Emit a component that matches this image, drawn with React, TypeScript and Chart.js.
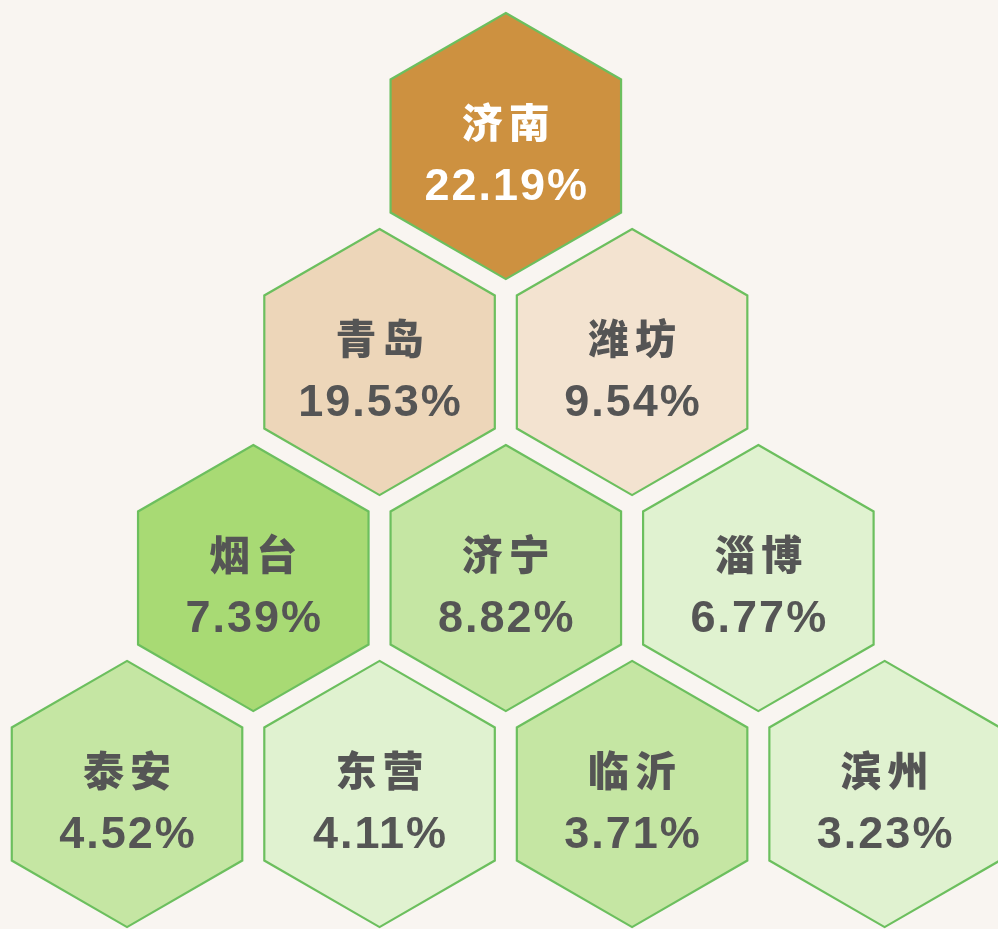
import React, { useEffect, useRef } from "react";
import { Chart, registerables } from "chart.js";

Chart.register(...registerables);

const cities = ["济南", "青岛", "潍坊", "烟台", "济宁", "淄博", "泰安", "东营", "临沂", "滨州"];
const shares = [22.19, 19.53, 9.54, 7.39, 8.82, 6.77, 4.52, 4.11, 3.71, 3.23];
const gridCol = [1.5, 1, 2, 0.5, 1.5, 2.5, 0, 1, 2, 3];
const gridRow = [0, 1, 1, 2, 2, 2, 3, 3, 3, 3];
const fillColors = [
  "#CD9140", "#EDD6B9", "#F3E3D0",
  "#A8DA74", "#C5E6A3", "#E0F2D0",
  "#C5E6A3", "#E0F2D0", "#C5E6A3", "#E0F2D0",
];
const textColors = [
  "#FFFFFF", "#555555", "#555555",
  "#555555", "#555555", "#555555",
  "#555555", "#555555", "#555555", "#555555",
];

const BG = "#F9F5F1";
const STROKE = "#6CBF5E";
const HEX_R = 0.527; // hex circumradius in column units

const hexPlugin = {
  id: "hexPlugin",
  beforeDraw(chart: any) {
    const { ctx, width, height } = chart;
    ctx.save();
    ctx.fillStyle = BG;
    ctx.fillRect(0, 0, width, height);
    ctx.restore();
  },
  afterDatasetsDraw(chart: any) {
    const { ctx } = chart;
    const xs = chart.scales.x;
    const meta = chart.getDatasetMeta(0);
    const r = xs.getPixelForValue(HEX_R) - xs.getPixelForValue(0);
    meta.data.forEach((pt: any, i: number) => {
      const cx = pt.x;
      const cy = pt.y;
      ctx.save();
      ctx.beginPath();
      for (let k = 0; k < 6; k++) {
        const a = ((-90 + 60 * k) * Math.PI) / 180;
        const px = cx + r * Math.cos(a);
        const py = cy + r * Math.sin(a);
        if (k === 0) ctx.moveTo(px, py);
        else ctx.lineTo(px, py);
      }
      ctx.closePath();
      ctx.fillStyle = fillColors[i];
      ctx.fill();
      ctx.lineWidth = 2.2;
      ctx.strokeStyle = STROKE;
      ctx.lineJoin = "miter";
      ctx.stroke();

      ctx.fillStyle = textColors[i];
      ctx.textAlign = "center";
      ctx.textBaseline = "middle";
      ctx.font = '900 41px "Noto Sans CJK SC", sans-serif';
      (ctx as any).letterSpacing = "6px";
      ctx.fillText(cities[i], cx + 3, cy - 24);
      ctx.textBaseline = "alphabetic";
      ctx.font = 'bold 45px "Liberation Sans", Arial, sans-serif';
      (ctx as any).letterSpacing = "2px";
      ctx.fillText(shares[i].toFixed(2) + "%", cx + 1, cy + 53.5);
      ctx.restore();
    });
  },
};

export default function App() {
  const ref = useRef<HTMLCanvasElement | null>(null);
  useEffect(() => {
    if (!ref.current) return;
    const chart = new Chart(ref.current, {
      type: "scatter",
      data: {
        datasets: [
          {
            label: "占比",
            data: cities.map((c, i) => ({ x: gridCol[i], y: gridRow[i] })),
            pointRadius: 0,
            pointHoverRadius: 0,
          },
        ],
      },
      options: {
        responsive: false,
        animation: false,
        layout: { padding: 0 },
        plugins: { legend: { display: false }, tooltip: { enabled: false } },
        scales: {
          x: { type: "linear", display: false, min: -0.503, max: 3.449 },
          y: { type: "linear", display: false, reverse: true, min: -0.676, max: 3.625 },
        },
      },
      plugins: [hexPlugin],
    });
    return () => chart.destroy();
  }, []);
  return (
    <div style={{ position: "fixed", left: 0, top: 0, width: 998, height: 929, background: BG }}>
      <canvas ref={ref} width={998} height={929} style={{ display: "block" }} />
    </div>
  );
}
